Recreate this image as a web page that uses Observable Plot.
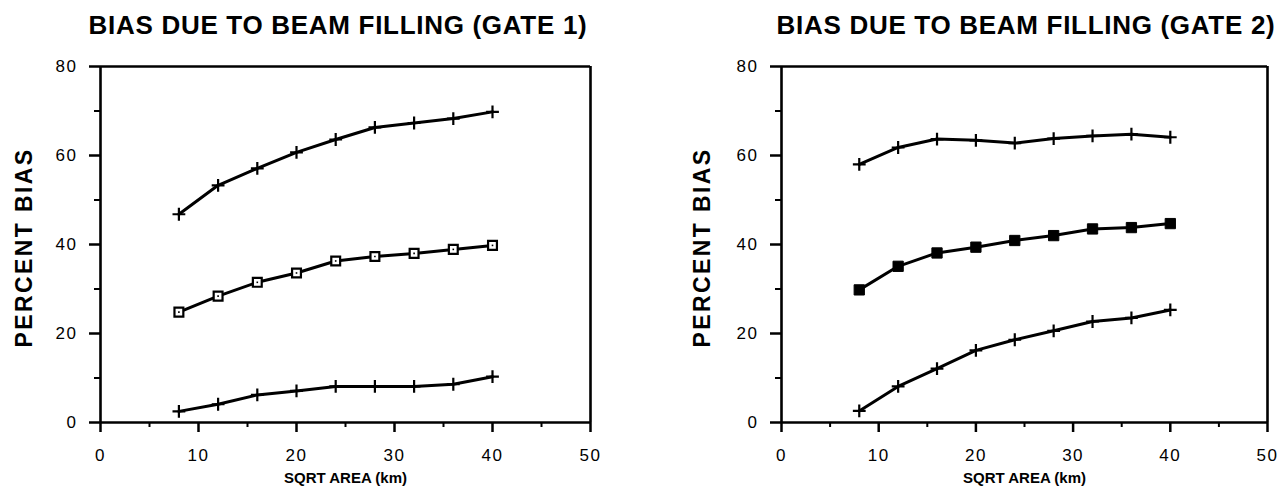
<!DOCTYPE html>
<html>
<head>
<meta charset="utf-8">
<script src="https://cdn.jsdelivr.net/npm/d3@7"></script>
<script src="https://cdn.jsdelivr.net/npm/@observablehq/plot@0.6"></script>
<style>
  body { margin: 0; background: #fff; }
  #wrap { position: relative; width: 1287px; height: 499px; overflow: hidden; background: #fff;
          font-family: "Liberation Sans", Arial, Helvetica, sans-serif; color: #000; }
  .title { position: absolute; top: 12px; width: 600px; line-height: 26px; font-size: 26px;
           font-weight: bold; text-align: center; white-space: nowrap; letter-spacing: 0.7px; }
  .panel { position: absolute; top: 44px; }
</style>
</head>
<body>
<div id="wrap">
  <div class="title" id="t1" style="left:38px"></div>
  <div class="title" id="t2" style="left:726px"></div>
  <div class="panel" id="p1" style="left:0px"></div>
  <div class="panel" id="p2" style="left:643px"></div>
</div>
<script>
// ---- data ----
const titles = ["BIAS DUE TO BEAM FILLING (GATE 1)", "BIAS DUE TO BEAM FILLING (GATE 2)"];
const xLabel = "SQRT AREA (km)";
const yLabel = "PERCENT BIAS";
const xMajorTicks = [0, 10, 20, 30, 40, 50];
const xMinorTicks = [5, 15, 25, 35, 45];
const yMajorTicks = [0, 20, 40, 60, 80];
const yMinorTicks = [10, 30, 50, 70];
const xDomain = [0, 50];
const yDomain = [0, 80];
const sqrtArea = [8, 12, 16, 20, 24, 28, 32, 36, 40];
const gate1Upper  = [46.8, 53.3, 57.1, 60.7, 63.6, 66.3, 67.3, 68.3, 69.8];
const gate1Middle = [24.8, 28.4, 31.5, 33.6, 36.3, 37.3, 38.0, 38.9, 39.8];
const gate1Lower  = [2.5, 4.1, 6.2, 7.1, 8.1, 8.1, 8.1, 8.6, 10.3];
const gate2Upper  = [58.0, 61.8, 63.7, 63.4, 62.8, 63.8, 64.4, 64.8, 64.1];
const gate2Middle = [29.8, 35.1, 38.1, 39.4, 40.9, 42.0, 43.5, 43.8, 44.7];
const gate2Lower  = [2.6, 8.1, 12.1, 16.2, 18.6, 20.6, 22.7, 23.5, 25.3];

const FONT = '"Liberation Sans", Arial, Helvetica, sans-serif';
const rows = (ys) => sqrtArea.map((x, i) => ({x, y: ys[i]}));

function panel({upper, middle, lower, filled, width, marginLeft, marginRight, ylabelDx}) {
  const up = rows(upper), mid = rows(middle), lo = rows(lower);
  const marks = [
    // box around the plotting area
    Plot.ruleY(yDomain, {stroke: "black", strokeWidth: 2.6}),
    Plot.ruleX(xDomain, {stroke: "black", strokeWidth: 2.6}),
    Plot.axisX({ticks: xMajorTicks, tickSize: 10, tickPadding: 16, fontSize: 17, strokeWidth: 2.5, label: null}),
    Plot.axisX({ticks: xMinorTicks, tickSize: 5, tickFormat: () => "", strokeWidth: 2, label: null}),
    Plot.axisY({ticks: yMajorTicks, tickSize: 11, tickPadding: 12, fontSize: 17, strokeWidth: 2.5, label: null}),
    Plot.axisY({ticks: yMinorTicks, tickSize: 6, tickFormat: () => "", strokeWidth: 2, label: null}),
    Plot.line(up, {x: "x", y: "y", stroke: "black", strokeWidth: 3}),
    Plot.line(mid, {x: "x", y: "y", stroke: "black", strokeWidth: 3}),
    Plot.line(lo, {x: "x", y: "y", stroke: "black", strokeWidth: 3}),
    Plot.dot(up, {x: "x", y: "y", symbol: "plus", r: 4.2, stroke: "black", strokeWidth: 2.2}),
    Plot.dot(lo, {x: "x", y: "y", symbol: "plus", r: 4.2, stroke: "black", strokeWidth: 2.2})
  ];
  if (filled) {
    marks.push(Plot.dot(mid, {x: "x", y: "y", symbol: "square", r: 5.8, fill: "black", stroke: "black", strokeWidth: 1}));
  } else {
    marks.push(Plot.dot(mid, {x: "x", y: "y", symbol: "square", r: 5, fill: "white", stroke: "black", strokeWidth: 2.2}));
    marks.push(Plot.dot(mid, {x: "x", y: "y", symbol: "square", r: 0.9, fill: "black", stroke: "none"}));
  }
  marks.push(Plot.text([yLabel], {text: d => d, frameAnchor: "left", textAnchor: "middle", lineAnchor: "middle",
    rotate: -90, dx: ylabelDx, dy: 3, fontSize: 23, fontWeight: "bold", fill: "black"}));
  marks.push(Plot.text([xLabel], {text: d => d, frameAnchor: "bottom", textAnchor: "middle", lineAnchor: "middle", dy: 56,
    fontSize: 15, fontWeight: "bold", fill: "black"}));
  const svg = Plot.plot({
    width, height: 455, marginLeft, marginRight, marginTop: 22, marginBottom: 77,
    x: {domain: xDomain},
    y: {domain: yDomain},
    style: {fontFamily: FONT, color: "black", background: "white", overflow: "visible"},
    marks
  });
  // spacing of the wide scanned lettering
  svg.querySelectorAll('g[aria-label="x-axis tick label"] text, g[aria-label="y-axis tick label"] text')
    .forEach(t => t.style.letterSpacing = "1.5px");
  svg.querySelectorAll('g[aria-label="text"] text').forEach(t => {
    if (t.textContent === yLabel) t.style.letterSpacing = "2.4px";
  });
  return svg;
}

document.getElementById("t1").textContent = titles[0];
document.getElementById("t2").textContent = titles[1];
document.getElementById("p1").appendChild(panel({
  upper: gate1Upper, middle: gate1Middle, lower: gate1Lower, filled: false,
  width: 643, marginLeft: 100, marginRight: 53, ylabelDx: -76
}));
document.getElementById("p2").appendChild(panel({
  upper: gate2Upper, middle: gate2Middle, lower: gate2Lower, filled: true,
  width: 644, marginLeft: 138, marginRight: 20, ylabelDx: -79
}));
</script>
</body>
</html>
